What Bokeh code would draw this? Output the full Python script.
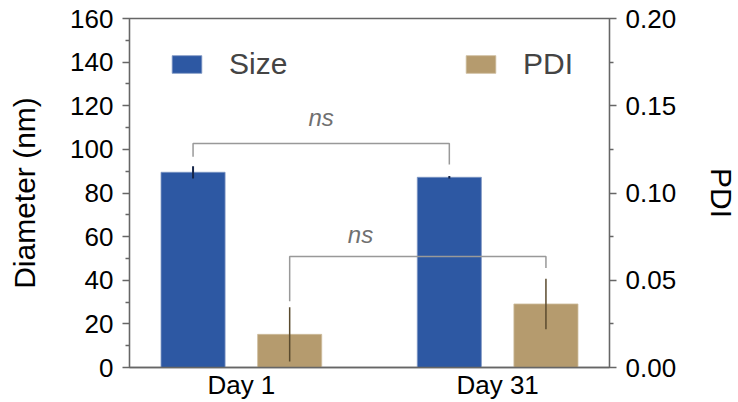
from bokeh.plotting import figure
from bokeh.models import (Range1d, LinearAxis, FixedTicker, NumeralTickFormatter,
                          ColumnDataSource, Legend, LegendItem)
from bokeh.core.properties import value
from bokeh.embed import file_html
from bokeh.resources import INLINE

# ---- data ----
categories = ["Day 1", "Day 31"]
size_mean = [89.5, 87.2]
size_err = [2.8, 0.6]
pdi_mean = [0.019, 0.0364]
pdi_err = [0.0155, 0.0145]
# significance brackets (Size in nm, PDI in PDI units)
size_bracket = [96.6, 102.7, 93.1]     # left leg bottom, top, right leg bottom
pdi_bracket = [0.0379, 0.0636, 0.057]
sig_labels = ["ns", "ns"]

FONT = "Liberation Sans"
BLUE = "#2D58A3"
TAN = "#B59B6E"

pos = [1, 2]
off = 0.1885
bw = 0.25
size_x = [p_ - off for p_ in pos]
pdi_x = [p_ + off for p_ in pos]

p = figure(width=741, height=402, output_backend="svg", toolbar_location=None,
           x_range=Range1d(0.5635, 2.4365), y_range=Range1d(0, 160),
           min_border_left=129, min_border_right=100, min_border_top=18,
           min_border_bottom=34)
p.extra_y_ranges = {"pdi": Range1d(0, 0.2)}
p.xgrid.visible = False
p.ygrid.visible = False
p.outline_line_color = "#666666"
p.outline_line_width = 1.3
p.background_fill_color = "white"
p.border_fill_color = "white"

src_s = ColumnDataSource(dict(x=size_x, top=size_mean,
                              lo=[m - e for m, e in zip(size_mean, size_err)],
                              hi=[m + e for m, e in zip(size_mean, size_err)]))
src_p = ColumnDataSource(dict(x=pdi_x, top=pdi_mean,
                              lo=[m - e for m, e in zip(pdi_mean, pdi_err)],
                              hi=[m + e for m, e in zip(pdi_mean, pdi_err)]))

r_size = p.vbar(x="x", top="top", width=bw, source=src_s, fill_color=BLUE,
                line_color="#7f97c4", line_width=0.8)
r_pdi = p.vbar(x="x", top="top", width=bw, source=src_p, fill_color=TAN,
               line_color="#cdbb9c", line_width=0.8, y_range_name="pdi")
p.segment(x0="x", y0="lo", x1="x", y1="hi", source=src_s, line_color="#16264a",
          line_width=2)
p.segment(x0="x", y0="lo", x1="x", y1="hi", source=src_p, line_color="#5a4a2e",
          line_width=1.5, y_range_name="pdi")

# brackets
p.line(x=[size_x[0], size_x[0], size_x[1], size_x[1]],
       y=[size_bracket[0], size_bracket[1], size_bracket[1], size_bracket[2]],
       line_color="#999999", line_width=1.5)
p.line(x=[pdi_x[0], pdi_x[0], pdi_x[1], pdi_x[1]],
       y=[pdi_bracket[0], pdi_bracket[1], pdi_bracket[1], pdi_bracket[2]],
       line_color="#999999", line_width=1.5, y_range_name="pdi")
p.text(x=[(size_x[0] + size_x[1]) / 2, 1.465], y=[114.4, 61.0], text=sig_labels,
       text_font=value(FONT), text_font_style="italic", text_font_size="24px",
       text_color="#707070", text_align="center", text_baseline="middle")

# axes
def style_axis(ax):
    ax.axis_line_color = "#666666"
    ax.axis_line_width = 1.3
    ax.major_tick_line_color = "#666666"
    ax.minor_tick_line_color = "#666666"
    ax.major_tick_line_width = 1.3
    ax.minor_tick_line_width = 1.3
    ax.major_tick_in = 0
    ax.major_tick_out = 7
    ax.minor_tick_in = 0
    ax.minor_tick_out = 4
    ax.major_label_text_font = FONT
    ax.major_label_text_font_size = "26px"
    ax.major_label_text_color = "black"
    ax.axis_label_text_font = FONT
    ax.axis_label_text_font_size = "30px"
    ax.axis_label_text_font_style = "normal"
    ax.axis_label_text_color = "black"

yl = p.yaxis[0]
yl.ticker = FixedTicker(ticks=list(range(0, 161, 20)), minor_ticks=list(range(10, 160, 20)))
yl.axis_label = "Diameter (nm)"
yl.formatter = NumeralTickFormatter(format="0")
style_axis(yl)
yl.major_label_standoff = 9
yl.axis_label_standoff = 26

yr = LinearAxis(y_range_name="pdi", axis_label="PDI",
                ticker=FixedTicker(ticks=[0, 0.05, 0.1, 0.15, 0.2],
                                   minor_ticks=[0.025, 0.075, 0.125, 0.175]),
                formatter=NumeralTickFormatter(format="0.00"))
style_axis(yr)
yr.major_label_standoff = 9
yr.axis_label_standoff = 26
yr.axis_label_text_line_height = 0.8
p.add_layout(yr, "right")

xa = p.xaxis[0]
xa.ticker = FixedTicker(ticks=pos)
xa.major_label_overrides = {pos[i]: categories[i] for i in range(len(pos))}
style_axis(xa)
xa.major_tick_out = 0
xa.minor_tick_out = 0
xa.major_label_standoff = 2

# legends
def mk_legend(label, rend, loc):
    lg = Legend(items=[LegendItem(label=label, renderers=[rend])], location=loc,
                orientation="horizontal", padding=0, margin=0, border_line_color=None,
                background_fill_alpha=0, glyph_width=37, glyph_height=22,
                label_text_font=FONT, label_text_font_size="30px",
                label_standoff=24, label_height=22)
    return lg

p.add_layout(mk_legend("Size", r_size, (39, 286)), "center")
p.add_layout(mk_legend("PDI", r_pdi, (333, 286)), "center")

open("out.html", "w").write(file_html(p, INLINE))
